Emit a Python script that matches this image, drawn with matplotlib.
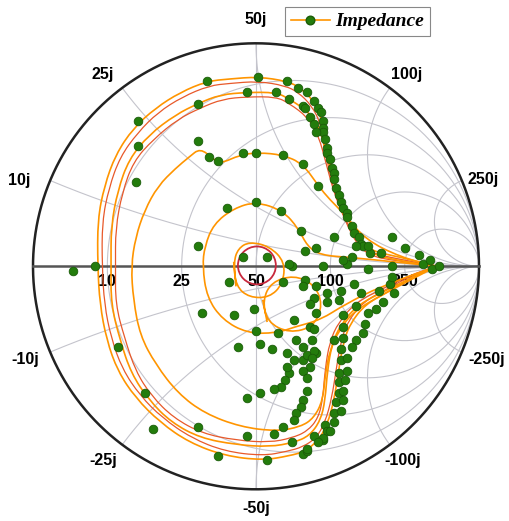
import numpy as np
import matplotlib.pyplot as plt
from matplotlib.lines import Line2D
from matplotlib.patches import Circle, PathPatch
from matplotlib.path import Path

# =============================================================================
# Data (reflection coefficient, Z0 = 50 ohm)
# =============================================================================
Z0 = 50
r_ticks = [10, 25, 50, 100, 250]
x_ticks = [10, 25, 50, 100, 250]

loop1_re = [0.81, 0.65, 0.51, 0.46, 0.41, 0.38, 0.35, 0.33, 0.31, 0.30, 0.26, 0.20, 0.14, 0.01,
            -0.12, -0.22, -0.34, -0.45, -0.55, -0.63, -0.68, -0.71, -0.71, -0.70, -0.67, -0.62,
            -0.54, -0.43, -0.30, -0.14, 0.03, 0.15, 0.22, 0.28, 0.32, 0.35, 0.37, 0.39, 0.42,
            0.49, 0.60, 0.71, 0.81]
loop1_im = [0.00, 0.04, 0.07, 0.13, 0.22, 0.29, 0.39, 0.48, 0.57, 0.65, 0.74, 0.80, 0.83, 0.85,
            0.84, 0.83, 0.78, 0.71, 0.62, 0.50, 0.36, 0.21, 0.00, -0.17, -0.33, -0.47, -0.59,
            -0.70, -0.79, -0.85, -0.87, -0.85, -0.83, -0.78, -0.71, -0.60, -0.47, -0.35, -0.26,
            -0.17, -0.11, -0.04, 0.00]

loop1b_re = [0.81, 0.65, 0.51, 0.45, 0.40, 0.37, 0.34, 0.32, 0.30, 0.29, 0.25, 0.19, 0.13, 0.01,
             -0.12, -0.21, -0.33, -0.44, -0.53, -0.61, -0.66, -0.69, -0.69, -0.68, -0.65, -0.60,
             -0.52, -0.42, -0.29, -0.14, 0.03, 0.14, 0.21, 0.27, 0.31, 0.34, 0.36, 0.38, 0.41,
             0.48, 0.59, 0.70, 0.81]
loop1b_im = [0.00, 0.03, 0.06, 0.12, 0.21, 0.28, 0.38, 0.47, 0.56, 0.64, 0.72, 0.78, 0.81, 0.83,
             0.82, 0.81, 0.76, 0.69, 0.60, 0.49, 0.35, 0.20, 0.00, -0.17, -0.32, -0.46, -0.58,
             -0.68, -0.77, -0.83, -0.85, -0.83, -0.81, -0.77, -0.70, -0.59, -0.46, -0.34, -0.25,
             -0.16, -0.10, -0.04, 0.00]

loop2_re = [0.81, 0.67, 0.53, 0.48, 0.44, 0.40, 0.36, 0.33, 0.29, 0.24, 0.15, 0.09, -0.04, -0.16,
            -0.26, -0.36, -0.48, -0.57, -0.62, -0.65, -0.65, -0.65, -0.61, -0.56, -0.48, -0.38,
            -0.25, -0.09, 0.06, 0.17, 0.24, 0.29, 0.31, 0.32, 0.34, 0.38, 0.46, 0.58, 0.70, 0.81]
loop2_im = [0.00, 0.02, 0.05, 0.09, 0.15, 0.24, 0.34, 0.45, 0.61, 0.69, 0.75, 0.78, 0.78, 0.77,
            0.73, 0.68, 0.59, 0.48, 0.34, 0.18, 0.00, -0.17, -0.33, -0.48, -0.60, -0.70, -0.77,
            -0.80, -0.81, -0.79, -0.76, -0.69, -0.60, -0.47, -0.35, -0.26, -0.17, -0.11, -0.05, 0.00]

loop2b_re = [0.81, 0.67, 0.53, 0.47, 0.43, 0.39, 0.35, 0.32, 0.28, 0.23, 0.15, 0.09, -0.04, -0.15,
             -0.25, -0.35, -0.46, -0.55, -0.60, -0.63, -0.63, -0.63, -0.59, -0.54, -0.47, -0.37,
             -0.24, -0.09, 0.06, 0.16, 0.23, 0.28, 0.30, 0.31, 0.33, 0.37, 0.45, 0.57, 0.69, 0.81]
loop2b_im = [0.00, 0.02, 0.04, 0.08, 0.14, 0.23, 0.33, 0.44, 0.59, 0.67, 0.73, 0.76, 0.76, 0.75,
             0.71, 0.66, 0.57, 0.47, 0.33, 0.17, 0.00, -0.17, -0.32, -0.47, -0.58, -0.68, -0.75,
             -0.78, -0.79, -0.77, -0.74, -0.68, -0.59, -0.46, -0.34, -0.25, -0.16, -0.10, -0.04, 0.00]

loop3_re = [0.81, 0.65, 0.49, 0.40, 0.33, 0.28, 0.21, 0.12, 0.01, -0.07, -0.16, -0.19, -0.25, -0.30,
            -0.36, -0.44, -0.50, -0.54, -0.56, -0.55, -0.52, -0.45, -0.35, -0.23, -0.07, 0.09,
            0.20, 0.26, 0.30, 0.31, 0.33, 0.37, 0.44, 0.58, 0.81]
loop3_im = [0.00, 0.04, 0.12, 0.23, 0.30, 0.36, 0.46, 0.50, 0.51, 0.50, 0.46, 0.48, 0.53, 0.49,
            0.44, 0.36, 0.25, 0.13, 0.00, -0.15, -0.31, -0.44, -0.57, -0.66, -0.72, -0.74,
            -0.72, -0.68, -0.60, -0.49, -0.38, -0.29, -0.20, -0.12, 0.00]

loop4_re = [0.81, 0.62, 0.42, 0.29, 0.23, 0.19, 0.12, 0.00, -0.10, -0.19, -0.23, -0.24, -0.22,
            -0.15, -0.04, 0.09, 0.18, 0.29, 0.40, 0.56, 0.81]
loop4_im = [0.00, 0.02, 0.04, 0.05, 0.09, 0.17, 0.25, 0.29, 0.26, 0.19, 0.09, 0.00, -0.14,
            -0.24, -0.30, -0.30, -0.27, -0.24, -0.17, -0.09, 0.00]

loop5_re = [0.03, 0.05, 0.15, 0.26, 0.30, 0.26, 0.17, 0.07, 0.03, 0.05]
loop5_im = [-0.15, -0.25, -0.30, -0.27, -0.17, -0.08, -0.04, -0.07, -0.15, -0.25]

loop6_re = [-0.10, -0.09, -0.03, 0.06, 0.12, 0.13, 0.06, -0.03, -0.08, -0.10, -0.09]
loop6_im = [0.02, -0.09, -0.14, -0.14, -0.08, 0.02, 0.09, 0.11, 0.08, 0.02, -0.09]

vswr_radius = 0.085

dots_top_re = [0.01, -0.22, 0.14, 0.19, 0.23, 0.26, -0.04, 0.09, 0.15, -0.26, 0.21, -0.53, -0.53,
               -0.54, -0.26, -0.21, -0.17, -0.06, 0.00, 0.12, 0.21, 0.28]
dots_top_im = [0.85, 0.83, 0.83, 0.80, 0.78, 0.74, 0.78, 0.78, 0.75, 0.73, 0.72, 0.65, 0.54,
               0.38, 0.56, 0.49, 0.47, 0.51, 0.51, 0.50, 0.46, 0.36]

chain_top_re = [0.28, 0.29, 0.30, 0.30, 0.30, 0.31, 0.32, 0.32, 0.33, 0.34, 0.35, 0.35, 0.36, 0.37,
                0.38, 0.39, 0.41, 0.41, 0.43, 0.44, 0.46, 0.47, 0.48, 0.22, 0.24, 0.26, 0.27]
chain_top_im = [0.71, 0.69, 0.65, 0.62, 0.60, 0.57, 0.53, 0.51, 0.48, 0.44, 0.42, 0.39, 0.35, 0.32,
                0.29, 0.26, 0.24, 0.22, 0.18, 0.15, 0.13, 0.10, 0.09, 0.71, 0.67, 0.64, 0.60]

dots_mid_re = [-0.13, 0.00, 0.11, 0.20, 0.22, 0.27, -0.26, -0.06, 0.05, 0.16, 0.30, -0.12, 0.12,
               0.22, 0.21, 0.27, 0.26, 0.24, -0.24, -0.10, -0.01, 0.17, 0.27, 0.24, 0.00, 0.10,
               0.02, -0.08, 0.07, 0.18, 0.14, 0.21, 0.25, 0.27, 0.35]
dots_mid_im = [0.26, 0.29, 0.25, 0.16, 0.07, 0.08, 0.09, 0.04, 0.04, 0.00, 0.00, -0.07, -0.07,
               -0.06, -0.09, -0.09, -0.14, -0.17, -0.21, -0.22, -0.19, -0.24, -0.21, -0.27, -0.29,
               -0.30, -0.35, -0.36, -0.37, -0.33, -0.39, -0.36, -0.33, -0.39, 0.13]

dots_low_re = [-0.82, -0.72, -0.62, -0.50, -0.46, -0.26, -0.17, -0.04, 0.05, 0.08, 0.16, 0.21,
               0.23, 0.26, 0.30, 0.31, 0.32, 0.17, 0.21, 0.23, 0.24, 0.15, 0.13, 0.11, 0.08, 0.02,
               -0.04, 0.21, 0.23, 0.23, 0.21, 0.20, 0.18, 0.17, 0.12]
dots_low_im = [-0.02, 0.00, -0.36, -0.57, -0.73, -0.72, -0.85, -0.76, -0.87, -0.75, -0.79, -0.84,
               -0.83, -0.76, -0.78, -0.71, -0.74, -0.42, -0.42, -0.40, -0.45, -0.48, -0.51, -0.54,
               -0.55, -0.57, -0.59, -0.47, -0.50, -0.56, -0.60, -0.63, -0.66, -0.69, -0.72]

dots_right_re = [0.41, 0.50, 0.61, 0.75, 0.79, 0.82, 0.44, 0.60, 0.61, 0.62, 0.32, 0.38, 0.47,
                 0.55, 0.32, 0.37, 0.45, 0.39, 0.50, 0.54, 0.57, 0.26, 0.39, 0.49, 0.48, 0.35,
                 0.39, 0.45, 0.26, 0.38, 0.43, 0.25, 0.38, 0.41, 0.14, 0.37, 0.41, 0.37, 0.40,
                 0.37, 0.39, 0.36, 0.39, 0.35, 0.38, 0.35, 0.33, 0.30, 0.28, 0.23, 0.61, 0.67,
                 0.73, 0.78, 0.15, 0.39, 0.43, 0.51, 0.56, 0.45, 0.50]
dots_right_im = [0.01, -0.01, 0.00, 0.01, -0.01, 0.00, -0.08, -0.08, -0.05, -0.12, -0.12, -0.11,
                 -0.12, -0.11, -0.16, -0.15, -0.18, -0.22, -0.21, -0.19, -0.16, -0.28, -0.27,
                 -0.26, -0.30, -0.33, -0.32, -0.33, -0.38, -0.37, -0.36, -0.41, -0.42, -0.41,
                 -0.45, -0.48, -0.47, -0.52, -0.51, -0.57, -0.56, -0.61, -0.60, -0.66, -0.65,
                 -0.70, -0.74, -0.77, -0.79, -0.82, 0.13, 0.08, 0.05, 0.03, 0.01, 0.03, 0.04,
                 0.06, 0.06, 0.09, 0.09]

# Colors
orange = '#ff9500'
red_orange = '#e8592a'
green = '#237c0c'
grid_c = '#c4c4cc'

# Reactance label placement (chart coordinates, outside the rim)
x_label_pos = {'10j': (-1.06, 0.385), '25j': (-0.686, 0.862), '50j': (0.0, 1.105),
               '100j': (0.677, 0.862), '250j': (1.02, 0.387),
               '-10j': (-1.036, -0.42), '-25j': (-0.686, -0.873), '-50j': (0.0, -1.084),
               '-100j': (0.659, -0.873), '-250j': (1.036, -0.42)}


def gamma(z):
    return (z - Z0) / (z + Z0)


def smooth_trace(ax, re, im, **kw):
    # quadratic B-spline through the midpoints of the measured points
    pts = np.column_stack([re, im])
    mids = (pts[:-1] + pts[1:]) / 2
    verts = [pts[0], mids[0]]
    codes = [Path.MOVETO, Path.LINETO]
    for k in range(1, len(pts) - 1):
        verts += [pts[k], mids[k]]
        codes += [Path.CURVE3, Path.CURVE3]
    verts.append(pts[-1])
    codes.append(Path.LINETO)
    ax.add_patch(PathPatch(Path(verts, codes), fill=False, **kw))


# =============================================================================
# Figure
# =============================================================================
fig = plt.figure(figsize=(5.09, 5.21), dpi=100)
ax = fig.add_axes([10.7 / 509, 9.4 / 521, 490.6 / 509, 490.6 / 521])
ax.set_xlim(-1.1, 1.1)
ax.set_ylim(-1.1, 1.1)
ax.axis('off')

# Smith grid
sweep = np.concatenate([-np.logspace(4, -3, 500), [0], np.logspace(-3, 4, 500)])
for R in r_ticks:
    g = gamma(R + 1j * sweep)
    ax.plot(g.real, g.imag, color=grid_c, lw=0.8, zorder=1)
rs = np.concatenate([[0], np.logspace(-3, 5, 600)])
for X in x_ticks:
    for s in (1, -1):
        g = gamma(rs + 1j * s * X)
        ax.plot(g.real, g.imag, color=grid_c, lw=0.8, zorder=1)
ax.plot([0, 0], [-1, 1], color=grid_c, lw=0.8, zorder=1)
t = np.linspace(0, 2 * np.pi, 400)
ax.plot(np.cos(t), np.sin(t), color='#222222', lw=1.8, zorder=2)
ax.plot([-1, 1], [0, 0], color='#555555', lw=1.8, zorder=2)

# Labels
for R in r_ticks:
    ax.text(gamma(R).real, -0.066, str(R), ha='center', va='center',
            fontsize=11.5, fontweight='bold', family='Liberation Sans')
for X in x_ticks:
    for pre in ('', '-'):
        lab = f'{pre}{X}j'
        px, py = x_label_pos[lab]
        ax.text(px, py, lab, ha='center', va='center',
                fontsize=11.5, fontweight='bold', family='Liberation Sans')

# Impedance traces
for re, im in [(loop1b_re, loop1b_im), (loop2b_re, loop2b_im)]:
    smooth_trace(ax, re, im, ec=red_orange, lw=0.9, zorder=3)
for re, im in [(loop1_re, loop1_im), (loop2_re, loop2_im), (loop3_re, loop3_im),
               (loop4_re, loop4_im), (loop5_re, loop5_im), (loop6_re, loop6_im)]:
    smooth_trace(ax, re, im, ec=orange, lw=1.2, zorder=3)
ax.add_patch(Circle((0.004, 0.004), vswr_radius, fill=False, ec='#c8283c', lw=1.3, zorder=3))

for re, im in [(dots_top_re, dots_top_im), (chain_top_re, chain_top_im),
               (dots_mid_re, dots_mid_im), (dots_low_re, dots_low_im),
               (dots_right_re, dots_right_im)]:
    ax.plot(re, im, 'o', color=green, mec='#1a5c08', ms=6.2, mew=0.6, zorder=4)

# Legend
handle = Line2D([], [], color=orange, lw=1.2, marker='o', mfc=green, mec='#1a5c08', ms=6.2)
lgd = fig.legend([handle], ['Impedance'], loc='upper left',
                 bbox_to_anchor=(285 / 509, 1 - 7 / 521), borderaxespad=0,
                 prop={'family': 'Liberation Serif', 'style': 'italic', 'weight': 'bold',
                       'size': 14},
                 fancybox=False, edgecolor='#888888', framealpha=1,
                 handlelength=2.0, borderpad=0.3, handletextpad=0.3)
lgd.get_frame().set_linewidth(0.8)

fig.savefig('out.png', dpi=100)
